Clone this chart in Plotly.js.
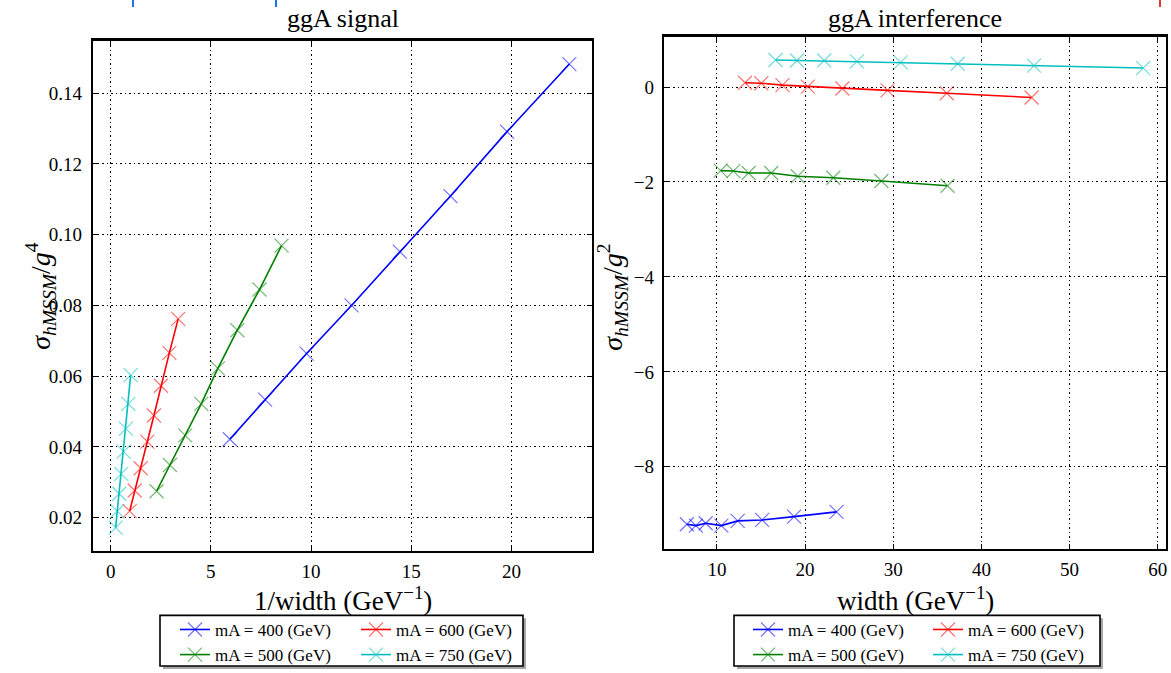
<!DOCTYPE html>
<html><head><meta charset="utf-8">
<script src="https://cdn.plot.ly/plotly-3.0.1.min.js"></script>
<style>html,body{margin:0;padding:0;background:#fff;overflow:hidden}#chart{width:1171px;height:673px}</style>
</head><body><div id="chart"></div>
<script>
// ---- data ----
const seriesNames = ['mA = 400 (GeV)', 'mA = 500 (GeV)', 'mA = 600 (GeV)', 'mA = 750 (GeV)'];

// ggA signal: x = 1/width, y = sigma/g^4
const sigX400 = [5.95, 7.71, 9.78, 12.02, 14.43, 16.96, 19.78, 22.89];
const sigY400 = [0.0422, 0.0534, 0.0664, 0.0800, 0.0952, 0.1109, 0.1291, 0.1482];
const sigX500 = [2.29, 2.96, 3.72, 4.52, 5.35, 6.32, 7.43, 8.53];
const sigY500 = [0.0275, 0.0349, 0.0433, 0.0522, 0.0622, 0.0730, 0.0845, 0.0969];
const sigX600 = [0.95, 1.20, 1.50, 1.83, 2.16, 2.51, 2.93, 3.37];
const sigY600 = [0.0219, 0.0277, 0.0340, 0.0415, 0.0489, 0.0573, 0.0666, 0.0762];
const sigX750 = [0.25, 0.33, 0.43, 0.53, 0.65, 0.76, 0.88, 1.00];
const sigY750 = [0.0172, 0.0219, 0.0268, 0.0324, 0.0387, 0.0452, 0.0522, 0.0603];

// ggA interference: x = width, y = sigma/g^2
const intX400 = [6.58, 7.61, 8.72, 10.50, 12.35, 15.12, 18.75, 23.57];
const intY400 = [-9.21, -9.24, -9.19, -9.24, -9.14, -9.12, -9.05, -8.95];
const intX500 = [10.41, 11.86, 13.59, 16.15, 19.16, 23.20, 28.65, 36.16];
const intY500 = [-1.76, -1.77, -1.81, -1.81, -1.88, -1.91, -1.98, -2.08];
const intX600 = [13.18, 15.03, 17.43, 20.31, 24.23, 29.35, 36.07, 45.69];
const intY600 = [0.09, 0.08, 0.04, 0.01, -0.03, -0.07, -0.13, -0.22];
const intX750 = [16.64, 19.08, 22.17, 25.88, 30.83, 37.31, 45.97, 58.35];
const intY750 = [0.57, 0.56, 0.56, 0.54, 0.52, 0.49, 0.45, 0.40];

const colors = ['#0000ff', '#008000', '#ff0000', '#00bfbf'];

// ---- layout helpers ----
const W = 1171, H = 673;
const px = x => x / W, py = y => 1 - y / H;
const FONT = 'Liberation Serif, Times New Roman, serif';

function tr(x, y, i, xa, ya, leg) {
  return {
    type: 'scatter', mode: 'lines+markers', x: x, y: y, name: seriesNames[i],
    xaxis: xa, yaxis: ya, legend: leg,
    line: {color: colors[i], width: 1.6},
    marker: {symbol: 'x-thin-open', size: 14, color: colors[i], opacity: 0.55,
             line: {color: colors[i], width: 1.2}}
  };
}

const data = [
  tr(sigX400, sigY400, 0, 'x', 'y', 'legend'),
  tr(sigX500, sigY500, 1, 'x', 'y', 'legend'),
  tr(sigX600, sigY600, 2, 'x', 'y', 'legend2'),
  tr(sigX750, sigY750, 3, 'x', 'y', 'legend2'),
  tr(intX400, intY400, 0, 'x2', 'y2', 'legend3'),
  tr(intX500, intY500, 1, 'x2', 'y2', 'legend3'),
  tr(intX600, intY600, 2, 'x2', 'y2', 'legend4'),
  tr(intX750, intY750, 3, 'x2', 'y2', 'legend4')
];

const axBase = {
  showline: true, linewidth: 2.3, linecolor: '#000', mirror: 'ticks',
  ticks: 'inside', ticklen: 5, tickwidth: 1, tickcolor: '#000',
  showgrid: true, gridcolor: '#000', griddash: '1.5px,3px', gridwidth: 1,
  zeroline: false, fixedrange: true,
  tickfont: {family: FONT, size: 19, color: '#000'}
};

function legendAt(xText, yTop) {
  return {x: px(xText - 40), y: py(yTop), xanchor: 'left', yanchor: 'top',
          bgcolor: 'rgba(0,0,0,0)', borderwidth: 0, tracegroupgap: 0,
          orientation: 'v', font: {family: FONT, size: 17, color: '#000'}};
}

function boxShapes(x0, x1, y0, y1) {
  return [
    {type: 'rect', xref: 'paper', yref: 'paper', x0: px(x0 + 3), x1: px(x1 + 3), y0: py(y1 + 3), y1: py(y0 + 3),
     line: {width: 0}, fillcolor: '#a8a8a8', layer: 'below'},
    {type: 'rect', xref: 'paper', yref: 'paper', x0: px(x0), x1: px(x1), y0: py(y1), y1: py(y0),
     line: {width: 1.6, color: '#000'}, fillcolor: '#fff', layer: 'below'}
  ];
}

const ann = (text, x, y, size, angle) => ({
  text: text, xref: 'paper', yref: 'paper', x: px(x), y: py(y), xanchor: 'center', yanchor: 'middle',
  showarrow: false, textangle: angle || 0, font: {family: FONT, size: size, color: '#000'}
});

const ytitle = '<i>σ</i><sub><i>hMSSM</i></sub>/<i>g</i><sup>%</sup>';

const layout = {
  width: W, height: H, margin: {l: 0, r: 0, t: 0, b: 0},
  paper_bgcolor: '#fff', plot_bgcolor: '#fff', showlegend: true,
  xaxis: Object.assign({}, axBase, {domain: [px(93), px(592)], range: [-0.88, 24.02], tick0: 0, dtick: 5, anchor: 'y', ticklabelstandoff: 2}),
  yaxis: Object.assign({}, axBase, {domain: [py(555), py(41)], range: [0.01065, 0.1548], tick0: 0, dtick: 0.02, tickformat: '.2f', anchor: 'x', ticklabelstandoff: 5}),
  xaxis2: Object.assign({}, axBase, {domain: [px(664), px(1166)], range: [3.99, 60.94], tick0: 0, dtick: 10, anchor: 'y2', ticklabelstandoff: 2}),
  yaxis2: Object.assign({}, axBase, {domain: [py(553), py(37)], range: [-9.73, 1.06], tick0: 0, dtick: 2, anchor: 'x2', ticklabelstandoff: 4}),
  legend: legendAt(215, 616.5),
  legend2: legendAt(396, 616.5),
  legend3: legendAt(788, 616.5),
  legend4: legendAt(968, 616.5),
  shapes: [].concat(
    boxShapes(160, 523, 620, 671),
    boxShapes(734, 1100, 620, 671),
    [
      {type: 'line', xref: 'paper', yref: 'paper', x0: px(133), x1: px(133), y0: py(0), y1: py(7), line: {color: '#1a73e8', width: 2}},
      {type: 'line', xref: 'paper', yref: 'paper', x0: px(276), x1: px(276), y0: py(0), y1: py(7), line: {color: '#1a73e8', width: 2}},
      {type: 'line', xref: 'paper', yref: 'paper', x0: px(1160), x1: px(1160), y0: py(0), y1: py(7), line: {color: '#e53935', width: 2}}
    ]),
  annotations: [
    ann('ggA signal', 342.5, 19, 26),
    ann('ggA interference', 915, 19, 26),
    ann('1/width (GeV<sup>−1</sup>)', 342.5, 603, 27),
    ann('width (GeV<sup>−1</sup>)', 915, 603, 27),
    ann(ytitle.replace('%', '4'), 41, 298, 28, -90),
    ann(ytitle.replace('%', '2'), 613, 300, 28, -90)
  ]
};

Plotly.newPlot('chart', data, layout, {staticPlot: true, displayModeBar: false});
</script></body></html>
